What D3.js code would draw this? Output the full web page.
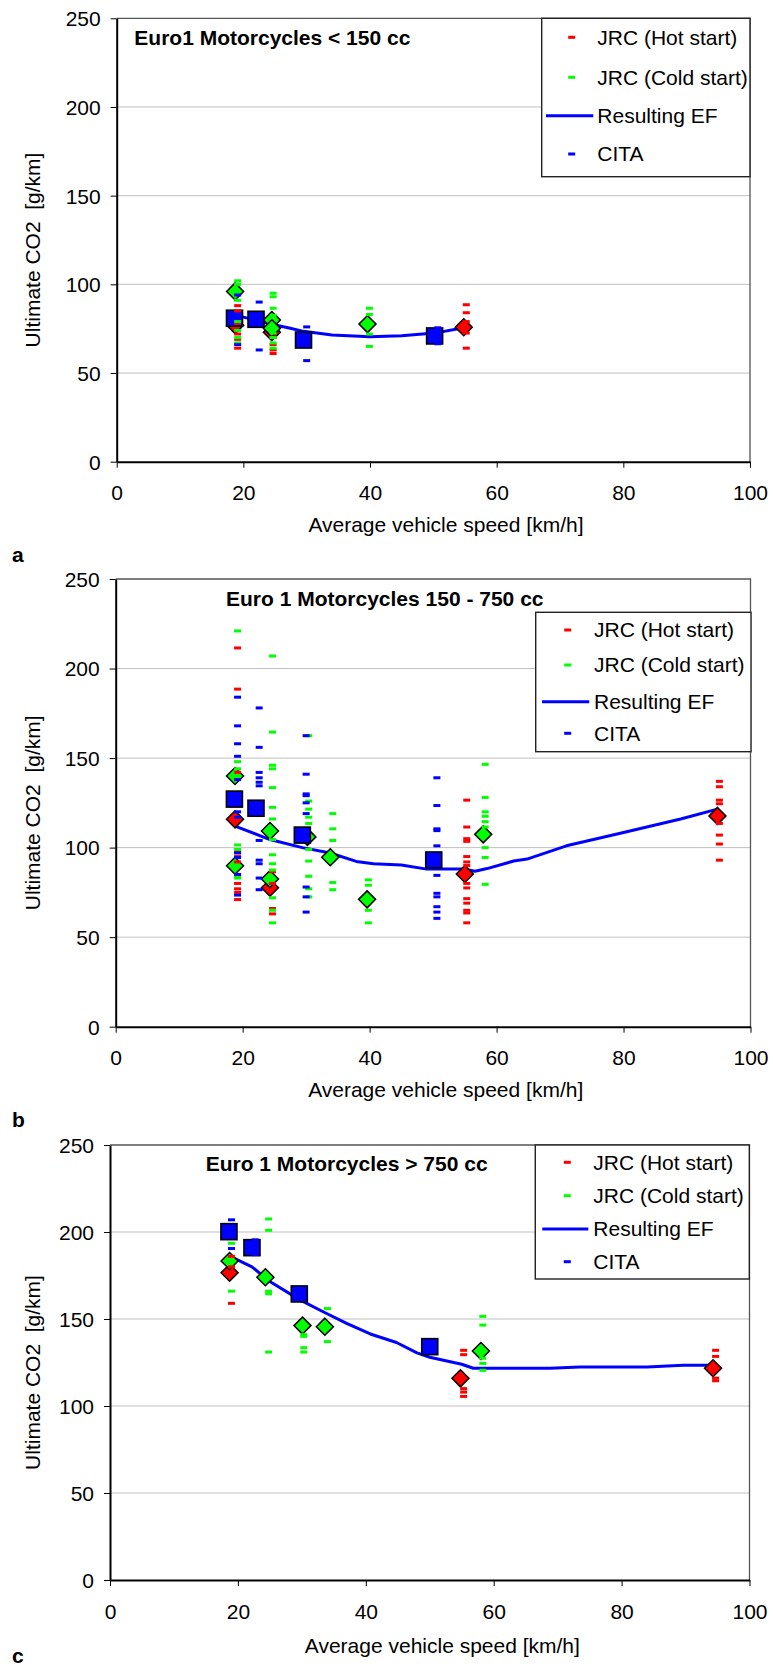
<!DOCTYPE html>
<html>
<head>
<meta charset="utf-8">
<script src="https://cdn.jsdelivr.net/npm/d3@7/dist/d3.min.js"></script>
<style>
  html, body { margin: 0; padding: 0; background: #fff; }
  svg { display: block; }
  text { white-space: pre; }
</style>
</head>
<body>
<div id="chart"></div>
<script>
// ---- shared axis settings ----
const xTicks = [0, 20, 40, 60, 80, 100];
const yTicks = [0, 50, 100, 150, 200, 250];
const legendLabels = ["JRC (Hot start)", "JRC (Cold start)", "Resulting EF", "CITA"];
const panelTitles = ["Euro1 Motorcycles < 150 cc", "Euro 1 Motorcycles 150 - 750 cc", "Euro 1 Motorcycles > 750 cc"];
const panelLetters = ["a", "b", "c"];
const xAxisTitle = "Average vehicle speed [km/h]";
const yAxisTitle = "Ultimate CO2  [g/km]";

// ---- panel a: Euro1 < 150 cc ----
// individual runs: [speed, [CO2 values]]
const aHotRuns  = [[19.1, [88, 85, 78, 72, 69, 64]], [24.7, [70, 66, 63, 61]], [55.2, [88.5, 84, 79, 72.5, 64]]];
const aColdRuns = [[19.1, [102, 100, 91, 79, 74, 70, 67]], [24.7, [95, 93, 86.5, 82.5, 72.5, 70, 67, 64]], [39.9, [86.5, 83, 72, 65]]];
const aCitaRuns = [[19.1, [94, 83, 66]], [22.5, [90, 80, 63]], [30.0, [76, 57]], [50.7, [75.5, 66.5]]];
// cycle means: [speed, CO2]
const aHotMeans  = [[18.7, 77], [24.5, 73], [54.8, 75.8]];
const aColdMeans = [[18.7, 96], [24.5, 79.9], [24.5, 75.2], [39.6, 77.6]];
const aCitaMeans = [[18.6, 80.9], [22.0, 80.3], [29.5, 68.6], [50.2, 70.9]];
const aEF = [[18.7, 83], [20, 81.5], [24.5, 77.5], [27.4, 75.2], [29.5, 73.5], [34, 71.5], [40, 70.4], [45, 71], [50.2, 72.5], [54.8, 75.5]];

// ---- panel b: Euro 1 150 - 750 cc ----
const bHotRuns  = [[19.2, [211.5, 188.5, 142, 98, 95, 92, 85, 80, 77, 75, 71]], [24.7, [86.5, 80, 66, 63]],
                   [55.3, [126.5, 111.5, 105, 103.5, 95, 92, 90, 80, 77.5, 71.5, 69, 65, 63.5, 58]],
                   [95.1, [137, 134, 126.5, 124.5, 113.5, 107, 102, 93]]];
const bColdRuns = [[19.2, [221, 148, 144, 101.5, 99, 84, 83]],
                   [24.7, [207, 164.5, 146, 144, 133.5, 122.5, 116, 104.5, 96, 91, 87.5, 72, 65, 58]],
                   [30.4, [162.5, 126, 121.5, 117, 113.5, 99, 92.5, 84, 77, 72.5]],
                   [34.2, [119, 110.5, 104, 80.5, 76.5]], [39.8, [82, 79, 65, 58]],
                   [58.2, [146.5, 128, 120, 117.5, 114.5, 111.5, 100, 94.5, 79.5]]];
const bCitaRuns = [[19.2, [184, 168, 158, 151, 138, 120, 117, 97, 94.5, 85, 73.5]],
                   [22.6, [178, 156, 142, 139, 136.5, 134.5, 104, 93, 91, 83, 76.5]],
                   [30.0, [162.5, 141, 130, 129, 125, 119, 105, 78, 72.5, 64]],
                   [50.6, [139, 123.5, 110.5, 109.5, 101, 84.5, 74.5, 72.5, 67, 64, 60.5]]];
const bHotMeans  = [[18.8, 115.8], [24.3, 77.6], [55.0, 85.3], [94.8, 117.7]];
const bColdMeans = [[30.2, 106], [18.8, 140], [18.8, 89.9], [24.3, 109.3], [24.3, 82.5], [33.8, 94.6], [39.6, 71.1], [57.9, 107.4]];
const bCitaMeans = [[18.7, 127.1], [22.1, 122], [29.4, 107], [50.1, 93.1]];
const bEF = [[18.8, 112], [24.3, 104.5], [29.4, 100], [33.8, 97], [37.9, 92.3], [40.6, 91], [45, 90.3], [49, 88],
             [55, 88], [56.6, 86.8], [58.5, 88.3], [62.7, 92.5], [64.8, 93.6], [71, 101], [79.5, 108], [89, 116], [94.8, 121.5]];

// ---- panel c: Euro 1 > 750 cc ----
const cHotRuns  = [[19.0, [186, 180, 159]], [55.3, [132, 129.5, 110, 108, 105.5]], [94.7, [132, 128.5, 116, 114.5]]];
const cColdRuns = [[19.0, [193.5, 166]], [24.8, [207.5, 201, 166, 164.5, 131]], [30.3, [141, 140, 133.5, 131]],
                   [34.0, [156, 137]], [58.3, [151.5, 146.5, 127.5, 124.5, 120.5]]];
const cCitaRuns = [[19.0, [207, 190.5]], [22.7, [195.5, 187]]];
const cHotMeans  = [[18.7, 176.6], [54.8, 115.9], [94.3, 121.7]];
const cColdMeans = [[18.7, 183.3], [24.3, 174], [30.1, 146.2], [33.6, 145.6], [58.0, 131.6]];
const cCitaMeans = [[18.6, 200.2], [22.2, 191], [29.6, 164.4], [50.0, 134.1]];
const cEF = [[18.8, 186], [22.2, 180], [25, 171.5], [29.7, 161], [33.4, 154], [37, 147.5], [40.7, 141.4], [44.8, 136.5],
             [48, 130.5], [50, 128], [55, 124], [56.8, 121.7], [68.8, 121.7], [73.5, 122.4], [84, 122.4], [89.6, 123.4], [94.3, 123.4]];

// ---- colours and fonts ----
const HOT = "#FF0000", COLD = "#00FF00", CITA = "#0000FF";
const FONT = "'Liberation Sans', Arial, Helvetica, sans-serif";
const FS = 21;

const W = 773, H = 1669;
const svg = d3.select("#chart").append("svg").attr("width", W).attr("height", H)
  .style("font-family", FONT);

// layout of the three stacked panels
const panels = [
  { left: 116.7, right: 750, top: 18.3, bottom: 461.7, titleX: 134.3, titleY: 37.7, letterY: 555, xTitleDy: 63, tickDy: 31,
    legend: { x0: 541.7, y0: 18.3, x1: 750, y1: 176.7, rows: [37.3, 77.3, 115.7, 154], textX: 597.3, markX: 571.7, line: [546, 593.3] },
    hot: aHotRuns, cold: aColdRuns, cita: aCitaRuns, hotM: aHotMeans, coldM: aColdMeans, citaM: aCitaMeans, ef: aEF },
  { left: 115.7, right: 750.5, top: 579, bottom: 1026.7, titleX: 226, titleY: 599, letterY: 1120, xTitleDy: 63, tickDy: 31,
    legend: { x0: 535.7, y0: 612.3, x1: 751, y1: 751.7, rows: [630, 665, 701.7, 733.3], textX: 594, markX: 567.7, line: [542, 589.3] },
    hot: bHotRuns, cold: bColdRuns, cita: bCitaRuns, hotM: bHotMeans, coldM: bColdMeans, citaM: bCitaMeans, ef: bEF },
  { left: 110, right: 749.5, top: 1145, bottom: 1580, titleX: 205.7, titleY: 1164, letterY: 1656, xTitleDy: 66, tickDy: 32,
    legend: { x0: 535.3, y0: 1145, x1: 749.3, y1: 1279, rows: [1162.3, 1195.7, 1229, 1261.7], textX: 593.3, markX: 567.3, line: [542.3, 588.3] },
    hot: cHotRuns, cold: cColdRuns, cita: cCitaRuns, hotM: cHotMeans, coldM: cColdMeans, citaM: cCitaMeans, ef: cEF }
];

const flatten = runs => runs.flatMap(([s, vals]) => vals.map(v => [s, v]));
const diamond = r => `M0,${-r}L${r},0L0,${r}L${-r},0Z`;

panels.forEach((p, i) => {
  const g = svg.append("g");
  const x = d3.scaleLinear().domain([0, 100]).range([p.left, p.right]);
  const y = d3.scaleLinear().domain([0, 250]).range([p.bottom, p.top]);

  // horizontal gridlines
  g.append("g").selectAll("line").data(yTicks.filter(t => t > 0 && t < 250)).join("line")
    .attr("x1", p.left).attr("x2", p.right)
    .attr("y1", d => y(d)).attr("y2", d => y(d))
    .attr("stroke", "#c0c0c0").attr("stroke-width", 1);

  // plot frame (top and right)
  g.append("path")
    .attr("d", `M${p.left},${y(250)}H${p.right}V${y(0)}`)
    .attr("fill", "none").attr("stroke", "#555").attr("stroke-width", 1.3);

  // resulting emission factor curve
  const line = d3.line().x(d => x(d[0])).y(d => y(d[1]));
  g.append("path").datum(p.ef).attr("d", line)
    .attr("fill", "none").attr("stroke", CITA).attr("stroke-width", 3)
    .attr("stroke-linejoin", "round").attr("stroke-linecap", "round");

  // cycle means
  g.append("g").selectAll("path").data(p.hotM).join("path")
    .attr("d", diamond(8.5)).attr("transform", d => `translate(${x(d[0])},${y(d[1])})`)
    .attr("fill", HOT).attr("stroke", "#000").attr("stroke-width", 1.5);
  g.append("g").selectAll("path").data(p.coldM).join("path")
    .attr("d", diamond(8.5)).attr("transform", d => `translate(${x(d[0])},${y(d[1])})`)
    .attr("fill", COLD).attr("stroke", "#000").attr("stroke-width", 1.5);
  g.append("g").selectAll("rect").data(p.citaM).join("rect")
    .attr("x", d => x(d[0]) - 8).attr("y", d => y(d[1]) - 8)
    .attr("width", 16).attr("height", 16)
    .attr("fill", CITA).attr("stroke", "#000").attr("stroke-width", 1.6);

  // individual runs as short dashes
  const dashes = (runs, color) => g.append("g").selectAll("rect").data(flatten(runs)).join("rect")
    .attr("x", d => x(d[0]) - 3.5).attr("y", d => y(d[1]) - 1.5)
    .attr("width", 7).attr("height", 3).attr("fill", color);
  dashes(p.hot, HOT);
  dashes(p.cold, COLD);
  dashes(p.cita, CITA);

  // axes
  const xAxis = g.append("g").attr("transform", `translate(0,${y(0)})`)
    .call(d3.axisBottom(x).tickValues(xTicks).tickSize(6).tickSizeOuter(0).tickFormat(d3.format("d")));
  xAxis.select(".domain").attr("stroke", "#000").attr("stroke-width", 2);
  xAxis.selectAll(".tick line").attr("stroke", "#000").attr("stroke-width", 1);
  xAxis.selectAll("text").attr("y", p.tickDy).attr("dy", "0.35em")
    .attr("font-size", FS).attr("font-family", FONT).attr("fill", "#000");

  const yAxis = g.append("g").attr("transform", `translate(${p.left},0)`)
    .call(d3.axisLeft(y).tickValues(yTicks).tickSize(6).tickSizeOuter(0).tickPadding(10).tickFormat(d3.format("d")));
  yAxis.select(".domain").attr("stroke", "#000").attr("stroke-width", 2);
  yAxis.selectAll(".tick line").attr("stroke", "#000").attr("stroke-width", 1);
  yAxis.selectAll("text").attr("dy", "0.35em")
    .attr("font-size", FS).attr("font-family", FONT).attr("fill", "#000");

  // axis titles
  const midX = (p.left + p.right) / 2 + 12.6;
  g.append("text").attr("x", midX).attr("y", y(0) + p.xTitleDy).attr("dy", "0.35em")
    .attr("text-anchor", "middle").attr("font-size", FS).text(xAxisTitle);
  const midY = (p.top + p.bottom) / 2 + 10;
  g.append("text").attr("transform", `translate(33,${midY}) rotate(-90)`).attr("dy", "0.35em")
    .attr("text-anchor", "middle").attr("font-size", FS).text(yAxisTitle);

  // panel letter and title
  g.append("text").attr("x", 12).attr("y", p.letterY).attr("dy", "0.35em")
    .attr("font-size", FS).attr("font-weight", "bold").text(panelLetters[i]);
  g.append("text").attr("x", p.titleX).attr("y", p.titleY).attr("dy", "0.35em")
    .attr("font-size", FS).attr("font-weight", "bold").text(panelTitles[i]);

  // legend
  const L = p.legend;
  const lg = g.append("g");
  lg.append("rect").attr("x", L.x0).attr("y", L.y0).attr("width", L.x1 - L.x0).attr("height", L.y1 - L.y0)
    .attr("fill", "#fff").attr("stroke", "#222").attr("stroke-width", 1.4);
  const markColors = [HOT, COLD, null, CITA];
  legendLabels.forEach((lab, k) => {
    const ry = L.rows[k];
    if (markColors[k]) {
      lg.append("rect").attr("x", L.markX - 3.5).attr("y", ry - 1.5).attr("width", 7).attr("height", 3)
        .attr("fill", markColors[k]);
    } else {
      lg.append("line").attr("x1", L.line[0]).attr("x2", L.line[1]).attr("y1", ry).attr("y2", ry)
        .attr("stroke", CITA).attr("stroke-width", 3);
    }
    lg.append("text").attr("x", L.textX).attr("y", ry).attr("dy", "0.35em")
      .attr("font-size", FS).text(lab);
  });
});
</script>
</body>
</html>
